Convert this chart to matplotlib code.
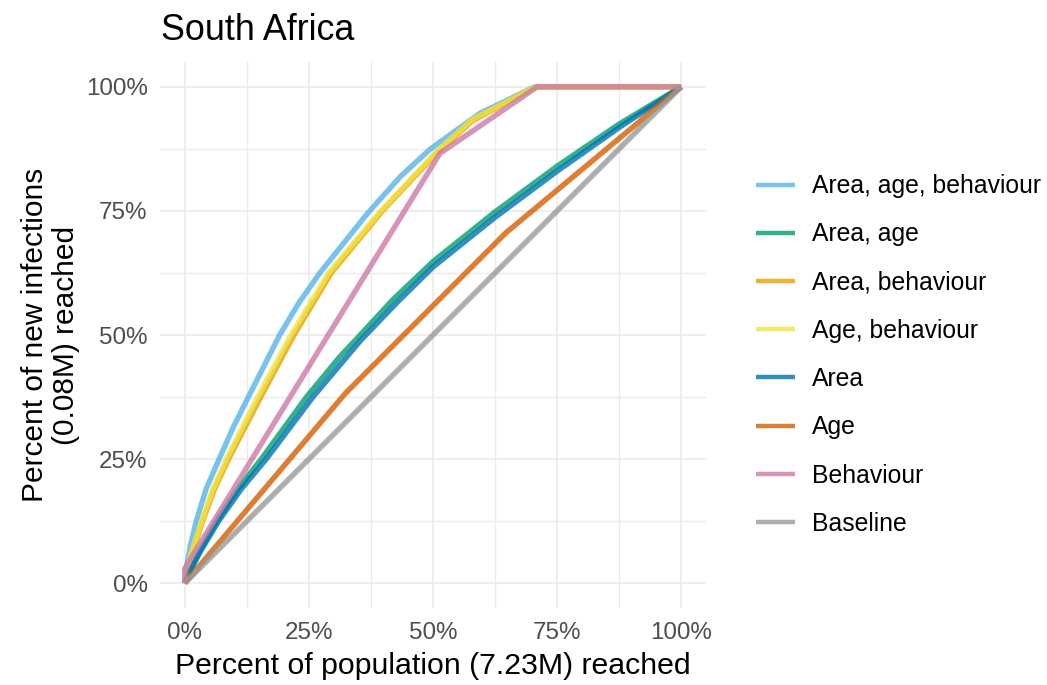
import matplotlib
matplotlib.use("Agg")
import matplotlib.pyplot as plt
from matplotlib.ticker import FixedLocator

plt.rcParams['font.family'] = ['Liberation Sans', 'DejaVu Sans']

# ---- data (fraction of population reached, fraction of new infections reached)
labels = ["Area, age, behaviour", "Area, age", "Area, behaviour", "Age, behaviour",
          "Area", "Age", "Behaviour", "Baseline"]
colors = ["#56B4E9", "#009E73", "#E69F00", "#F0E442",
          "#0072B2", "#D55E00", "#CC79A7", "#999999"]

aab_x = [0, 0.004, 0.011, 0.023, 0.043, 0.069, 0.098, 0.128, 0.191, 0.23, 0.272,
         0.368, 0.435, 0.495, 0.595, 0.705, 1.0]
aab_y = [0, 0.035, 0.075, 0.125, 0.19, 0.25, 0.315, 0.375, 0.5, 0.565, 0.625,
         0.745, 0.82, 0.875, 0.947, 1.0, 1.0]

aa_x = [0, 0.01, 0.03, 0.064, 0.107, 0.154, 0.245, 0.312, 0.344, 0.42, 0.5, 0.625,
        0.75, 0.875, 1.0]
aa_y = [0, 0.025, 0.065, 0.125, 0.19, 0.25, 0.375, 0.456, 0.49, 0.572, 0.648, 0.748,
        0.84, 0.925, 1.0]

ab_x = [0, 0.006, 0.016, 0.036, 0.06, 0.088, 0.153, 0.22, 0.295, 0.398, 0.508,
        0.58, 0.708, 1.0]
ab_y = [0, 0.03, 0.065, 0.125, 0.19, 0.25, 0.375, 0.5, 0.625, 0.75, 0.867,
        0.932, 1.0, 1.0]

agb_x = [0, 0.005, 0.015, 0.034, 0.057, 0.084, 0.147, 0.214, 0.29, 0.395, 0.508,
         0.58, 0.708, 1.0]
agb_y = [0, 0.03, 0.067, 0.125, 0.19, 0.25, 0.375, 0.5, 0.625, 0.75, 0.87,
         0.935, 1.0, 1.0]

area_x = [0, 0.011, 0.032, 0.068, 0.114, 0.164, 0.258, 0.355, 0.43, 0.5, 0.625,
          0.75, 0.875, 1.0]
area_y = [0, 0.025, 0.065, 0.125, 0.19, 0.25, 0.375, 0.49, 0.568, 0.637, 0.737,
          0.83, 0.918, 1.0]

age_x = [0, 0.323, 0.647, 1.0]
age_y = [0, 0.382, 0.706, 1.0]

beh_x = [0, 0.0, 0.514, 0.71, 1.0]
beh_y = [0, 0.03, 0.866, 1.0, 1.0]

base_x = [0, 1.0]
base_y = [0, 1.0]

series_x = [aab_x, aa_x, ab_x, agb_x, area_x, age_x, beh_x, base_x]
series_y = [aab_y, aa_y, ab_y, agb_y, area_y, age_y, beh_y, base_y]

major_ticks = [0, 0.25, 0.5, 0.75, 1.0]
minor_ticks = [0.125, 0.375, 0.625, 0.875]
tick_labels = ["0%", "25%", "50%", "75%", "100%"]

# ---- figure
W, H = 1047, 685
fig = plt.figure(figsize=(W / 100, H / 100), dpi=100)
ax = fig.add_axes([160 / W, (H - 608) / H, 546 / W, 546 / H])

for xs, ys, lab, col in zip(series_x, series_y, labels, colors):
    ax.plot(xs, ys, color=col, alpha=0.8, lw=3.9, label=lab,
            solid_capstyle='butt', solid_joinstyle='round')

ax.set_xlim(-0.05, 1.05)
ax.set_ylim(-0.05, 1.05)
for a in (ax.xaxis, ax.yaxis):
    a.set_major_locator(FixedLocator(major_ticks))
    a.set_minor_locator(FixedLocator(minor_ticks))
ax.set_xticklabels(tick_labels)
ax.set_yticklabels(tick_labels)
ax.grid(True, which='major', color='#EBEBEB', lw=1.2)
ax.grid(True, which='minor', color='#EBEBEB', lw=1.0)
ax.set_axisbelow(True)
for s in ax.spines.values():
    s.set_visible(False)
ax.tick_params(which='both', length=0)
ax.tick_params(axis='both', labelsize=17.4, labelcolor='#4D4D4D')
ax.tick_params(axis='x', pad=10)
ax.tick_params(axis='y', pad=9)

ax.set_xlabel("Percent of population (7.23M) reached", fontsize=21.8, labelpad=6)
ax.set_ylabel("Percent of new infections\n(0.08M) reached", fontsize=21.5, labelpad=4,
              linespacing=1.15)
ax.set_title("South Africa", fontsize=25.8, loc='left', pad=15.5, x=0.002)

leg = fig.legend(loc='center left', bbox_to_anchor=(756 / W, (H - 355) / H),
                 frameon=False, fontsize=17.8, handlelength=1.57,
                 handletextpad=0.68, labelspacing=0.98, borderpad=0,
                 borderaxespad=0)
for lh in leg.get_lines():
    lh.set_linewidth(3.2)

fig.savefig("out.png", dpi=100)
